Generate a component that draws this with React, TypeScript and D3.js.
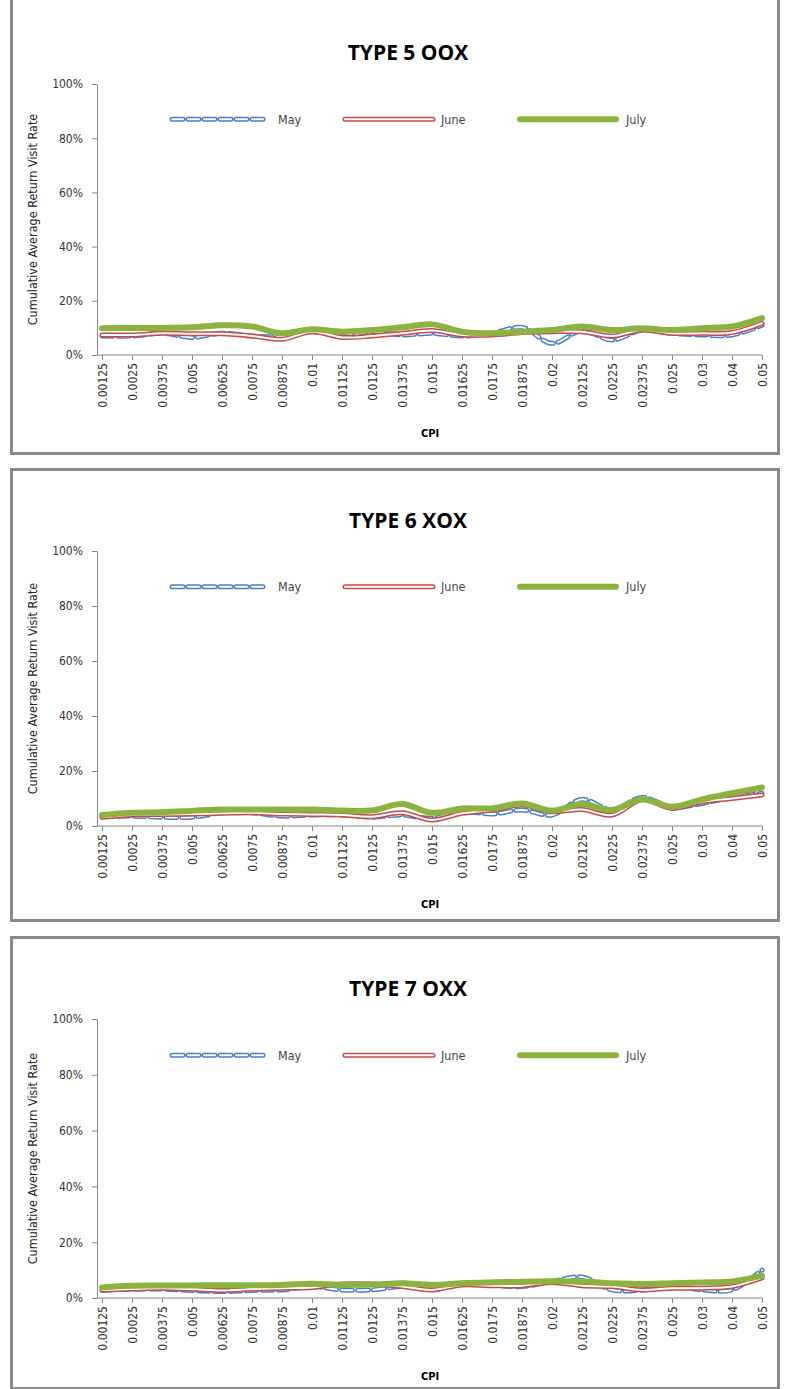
import * as d3 from 'd3';
import { useEffect, useRef } from 'react';

const categories = ['0.00125', '0.0025', '0.00375', '0.005', '0.00625', '0.0075', '0.00875', '0.01', '0.01125', '0.0125', '0.01375', '0.015', '0.01625', '0.0175', '0.01875', '0.02', '0.02125', '0.0225', '0.02375', '0.025', '0.03', '0.04', '0.05'];
const yTicks = [0, 20, 40, 60, 80, 100];

// values in percent
const type5May = [7, 7, 8, 6.5, 8, 7, 6.8, 8.6, 7, 8.6, 7.4, 8, 7, 8, 10.2, 4.3, 9, 5.5, 9.2, 8, 7.4, 7.4, 11];
const type5June = [7.4, 7.4, 8, 7.8, 7.8, 7, 5.8, 8.6, 6.5, 7, 8, 9, 7.4, 7.4, 8.3, 8.6, 8.6, 7, 9.2, 8, 8, 8.3, 11.7];
const type5July = [9.9, 10, 10, 10.2, 11, 10.5, 8, 9.5, 8.6, 9.2, 10.2, 11.3, 8.6, 8, 8.6, 9.2, 10.5, 9.2, 9.9, 9.2, 9.9, 10.5, 13.6];

const type6May = [3.4, 3.6, 3.2, 3.2, 4.8, 4.8, 3.6, 4, 4, 3.2, 4, 2.8, 5.2, 4.4, 5.8, 4, 9.7, 5.8, 10.4, 6.8, 8.2, 10.4, 11.9];
const type6June = [3.2, 4, 4.2, 4.4, 4.6, 4.8, 4.4, 4.2, 4, 3.4, 4.8, 2.2, 4.6, 5.8, 7.6, 5.2, 6, 4, 9.5, 6.4, 8.8, 10, 11.3];
const type6July = [4, 4.8, 5, 5.5, 6, 6, 6, 6, 5.6, 5.6, 8, 4.8, 6.4, 6.4, 8.2, 5.6, 8, 5.8, 9.7, 7, 9.7, 11.9, 14];

const type7May = [2.7, 3.2, 3.2, 2.7, 2.3, 2.7, 2.9, 4.1, 2.9, 2.9, 4.1, 3.2, 5.3, 4.7, 4.1, 5.9, 7.5, 2.9, 2.9, 4.4, 2.9, 2.9, 10];
const type7June = [2.9, 3.2, 3.5, 3.2, 2.7, 3.2, 3.5, 3.8, 5, 5, 4.1, 2.9, 4.7, 4.4, 4.4, 5.6, 4.4, 4.1, 2.9, 3.5, 3.5, 4.1, 7.2];
const type7July = [3.8, 4.4, 4.5, 4.5, 4.6, 4.6, 4.7, 5.1, 4.7, 4.8, 5.3, 4.7, 5.3, 5.6, 5.8, 6, 5.9, 5.3, 5, 5.3, 5.6, 5.9, 8];

const panels = [
  { title: 'TYPE 5 OOX', top: 0, y0: 355, y100: 84, may: type5May, june: type5June, july: type5July },
  { title: 'TYPE 6 XOX', top: 468, y0: 358, y100: 83, may: type6May, june: type6June, july: type6July },
  { title: 'TYPE 7 OXX', top: 936, y0: 362, y100: 83, may: type7May, june: type7June, july: type7July },
];

const font = '"DejaVu Sans Condensed", "Liberation Sans Narrow", sans-serif';

export default function App() {
  const ref = useRef<SVGSVGElement>(null);

  useEffect(() => {
    const svg = d3.select(ref.current);
    svg.selectAll('*').remove();
    svg.append('rect').attr('width', 787).attr('height', 1389).attr('fill', '#fff');

    const x = d3.scalePoint<string>().domain(categories).range([102, 762]);

    panels.forEach((p) => {
      const g = svg.append('g').attr('transform', `translate(0,${p.top})`);
      const panelH = p.top === 0 ? 455 : 452;
      g.append('rect')
        .attr('x', 11.5).attr('y', p.top === 0 ? -2 : 1.5)
        .attr('width', 767).attr('height', p.top === 0 ? panelH + 0.5 : panelH - 1)
        .attr('fill', 'none').attr('stroke', '#8a8a8a').attr('stroke-width', 3);

      const y = d3.scaleLinear().domain([0, 100]).range([p.y0, p.y100]);

      g.append('text').attr('x', 408).attr('y', 60).attr('text-anchor', 'middle')
        .attr('font-family', '"Open Sans", sans-serif').attr('font-weight', 'bold').attr('font-size', 21).text(p.title);

      // y axis
      const ya = g.append('g').attr('transform', 'translate(97,0)')
        .call(d3.axisLeft(y).tickValues(yTicks).tickSize(5).tickSizeOuter(0).tickFormat((d) => `${d}%`));
      ya.selectAll('text').attr('font-family', font).attr('font-size', 12).attr('fill', '#333').attr('dx', -6);
      ya.selectAll('path, line').attr('stroke', '#888');

      // x axis
      const xa = g.append('g').attr('transform', `translate(0,${y(0)})`)
        .call(d3.axisBottom(x).tickSize(5).tickSizeOuter(0));
      xa.select('.domain').attr('d', `M97,0H762`);
      xa.selectAll('path, line').attr('stroke', '#888');
      xa.selectAll('text')
        .attr('font-family', font).attr('font-size', 12).attr('fill', '#333')
        .attr('transform', 'rotate(-90)').attr('text-anchor', 'end')
        .attr('x', -8).attr('y', 0).attr('dy', '0.35em');

      g.append('text').attr('x', 430).attr('y', y(0) + 82).attr('text-anchor', 'middle')
        .attr('font-family', font).attr('font-weight', 'bold').attr('font-size', 11).text('CPI');

      g.append('text').attr('transform', `translate(37,${(y(0) + y(100)) / 2}) rotate(-90)`)
        .attr('text-anchor', 'middle').attr('font-family', font).attr('font-size', 12.5)
        .attr('fill', '#222').text('Cumulative  Average Return Visit Rate');

      const line = d3.line<number>().x((_, i) => x(categories[i])!).y((d) => y(d)).curve(d3.curveCatmullRom.alpha(0.5));

      const series = [
        { name: 'May', data: p.may, color: '#4a7fc8', w: 5, dash: '11 5', lx: 172 },
        { name: 'June', data: p.june, color: '#c84a4a', w: 5, dash: null, lx: 345 },
        { name: 'July', data: p.july, color: '#8cb33f', w: 6, dash: null, lx: 520 },
      ];

      series.forEach((s) => {
        const draw = (sel: any, d: string) => {
          sel.append('path').attr('d', d).attr('fill', 'none').attr('stroke', s.color)
            .attr('stroke-width', s.w).attr('stroke-linecap', 'round').attr('stroke-linejoin', 'round')
            .attr('stroke-dasharray', s.dash);
          if (s.name !== 'July') {
            sel.append('path').attr('d', d).attr('fill', 'none').attr('stroke', '#fff')
              .attr('stroke-width', s.w - 3).attr('stroke-linecap', 'round').attr('stroke-linejoin', 'round')
              .attr('stroke-dasharray', s.dash);
          }
        };
        draw(g, line(s.data)!);
        const ly = y(87);
        draw(g, `M${s.lx},${ly}H${s.lx + (s.name === 'June' ? 88 : 96)}`);
        g.append('text').attr('x', s.lx + (s.name === 'June' ? 96 : 106)).attr('y', ly).attr('dy', '0.35em')
          .attr('font-family', font).attr('font-size', 12.5).attr('fill', '#444').text(s.name);
      });
    });
  }, []);

  return <svg ref={ref} width={787} height={1389} style={{ position: 'absolute', left: 0, top: 0 }} />;
}
